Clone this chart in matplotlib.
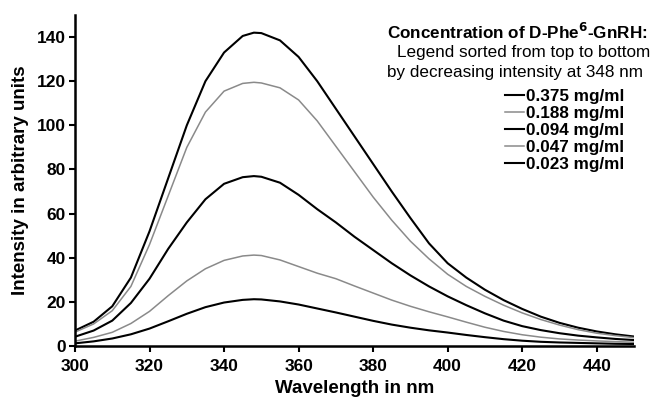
import matplotlib
matplotlib.use("Agg")
import matplotlib.pyplot as plt
from matplotlib.lines import Line2D

plt.rcParams['font.family'] = ['Liberation Sans', 'DejaVu Sans']

wavelength = [300, 305, 310, 315, 320, 325, 330, 335, 340, 345, 348, 350, 355, 360, 365, 370,
              375, 380, 385, 390, 395, 400, 405, 410, 415, 420, 425, 430, 435, 440, 445, 450]

c0375 = [7.0, 11, 18, 31, 52, 76, 100, 120, 133, 140.5, 142, 141.8, 138.5, 131, 120, 107.5,
         95, 82.5, 70, 58, 46.5, 37.5, 31, 25.5, 20.8, 16.8, 13.3, 10.5, 8.3, 6.6, 5.3, 4.3]
c0188 = [6.3, 10, 16, 27, 46, 68, 90, 106, 115.5, 119, 119.5, 119.2, 117, 111.5, 102, 90.5,
         79, 67.5, 57, 47.5, 39.5, 32.5, 27, 22.5, 18.5, 15, 12, 9.5, 7.4, 5.8, 4.7, 3.8]
c0094 = [4.2, 7, 11.5, 19.5, 30.5, 44, 56, 66.5, 73.5, 76.5, 77, 76.7, 74, 68.5, 62, 56,
         49.5, 43.5, 37.5, 32, 27, 22.5, 18.5, 14.8, 11.5, 9, 7.2, 5.8, 4.7, 3.9, 3.2, 2.7]
c0047 = [2.2, 3.9, 6.2, 10.2, 15.7, 22.8, 29.5, 35, 38.8, 40.8, 41.2, 41, 39, 36, 33, 30.5,
         27.2, 24, 20.8, 18, 15.5, 13.2, 10.8, 8.5, 6.6, 5.1, 4.0, 3.2, 2.7, 2.3, 2.0, 1.7]
c0023 = [1.2, 2.1, 3.4, 5.3, 7.9, 11.2, 14.6, 17.6, 19.7, 20.9, 21.2, 21.1, 20.2, 18.8, 17, 15.2,
         13.3, 11.4, 9.7, 8.3, 7.1, 6.1, 5.0, 4.0, 3.1, 2.4, 1.9, 1.6, 1.4, 1.2, 1.0, 0.9]

labels = ["0.375 mg/ml", "0.188 mg/ml", "0.094 mg/ml", "0.047 mg/ml", "0.023 mg/ml"]
series = [c0375, c0188, c0094, c0047, c0023]
colors = ["black", "#8a8a8a", "black", "#8a8a8a", "black"]
widths = [1.5, 1.1, 1.5, 1.1, 1.5]

xticks = [300, 320, 340, 360, 380, 400, 420, 440]
yticks = [0, 20, 40, 60, 80, 100, 120, 140]

W, H = 650, 397
fig = plt.figure(figsize=(6.5, 3.97), dpi=100)
ax = fig.add_axes([75 / W, 1 - 346 / H, (634 - 75) / W, (346 - 15) / H])

for vals, col, lw in zip(series, colors, widths):
    ax.plot(wavelength, vals, color=col, lw=lw, solid_joinstyle="round")

ax.set_xlim(300, 450)
ax.set_ylim(0, 150)
ax.set_xticks(xticks)
ax.set_yticks(yticks)
for s in ["top", "right"]:
    ax.spines[s].set_visible(False)
for s in ["left", "bottom"]:
    ax.spines[s].set_linewidth(1.8)
ax.tick_params(axis="both", direction="out", length=4.5, width=1.5, labelsize=12.5)
ax.tick_params(axis="x", pad=5)
ax.tick_params(axis="y", pad=2)
for lab in ax.get_xticklabels() + ax.get_yticklabels():
    lab.set_fontweight("bold")
ax.set_xlabel("Wavelength in nm", fontsize=13.5, fontweight="bold", labelpad=4)
ax.set_ylabel("Intensity in arbitrary units", fontsize=13.5, fontweight="bold", labelpad=6)

fig.text(387 / W, 1 - 32 / H, r"Concentration of D-Phe$^{\mathbf{6}}$-GnRH:", fontsize=12.3,
         fontweight="bold", ha="left", va="center")
fig.text(397 / W, 1 - 52 / H, "Legend sorted from top to bottom", fontsize=12.3,
         ha="left", va="center")
fig.text(387 / W, 1 - 72 / H, "by decreasing intensity at 348 nm", fontsize=12.3,
         ha="left", va="center")

handles = [Line2D([0], [0], color=c, lw=lw) for c, lw in zip(colors, widths)]
leg = ax.legend(handles, labels, loc="upper left", bbox_to_anchor=(505 / W, 1 - 89 / H),
                bbox_transform=fig.transFigure, frameon=False, handlelength=1.1,
                handletextpad=0.15, labelspacing=0.12, borderpad=0, borderaxespad=0,
                prop={"size": 12.3, "weight": "bold"})

fig.savefig("out.png", dpi=100)
